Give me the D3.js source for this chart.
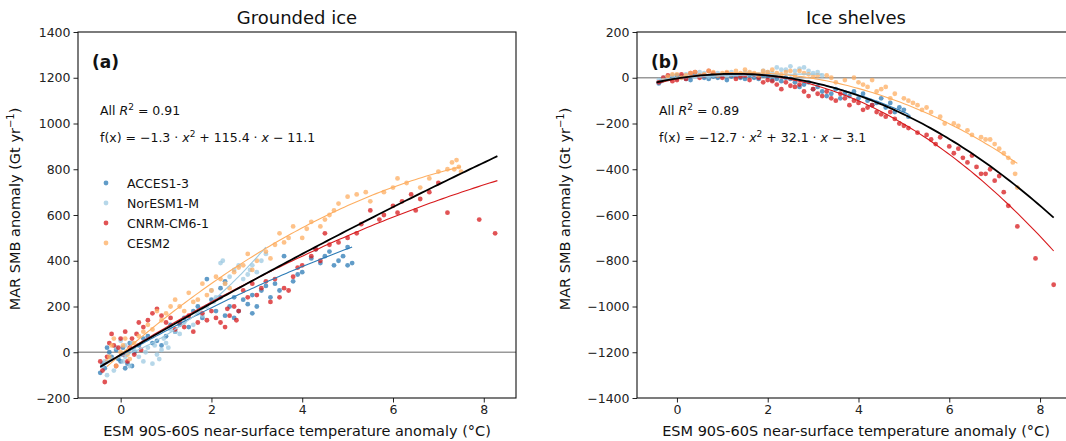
<!DOCTYPE html>
<html>
<head>
<meta charset="utf-8">
<script src="https://cdn.jsdelivr.net/npm/d3@7"></script>
<style>
  html, body { margin: 0; padding: 0; background: #fff; }
  svg { display: block; font-family: "DejaVu Sans", sans-serif; }
</style>
</head>
<body>
<svg id="chart" width="1066" height="441"></svg>
<script>
// ---------------- DATA ----------------
const models = ["ACCES1-3", "NorESM1-M", "CNRM-CM6-1", "CESM2"];
const modelColors = ["#2c7bb6", "#9ecae1", "#d7191c", "#fdae61"];

const xTicks = [0, 2, 4, 6, 8];
const groundedYTicks = [-200, 0, 200, 400, 600, 800, 1000, 1200, 1400];
const shelvesYTicks = [-1400, -1200, -1000, -800, -600, -400, -200, 0, 200];

// Grounded ice points [temperature anomaly, SMB anomaly]
const groundedAcces = [[-0.45,-90],[-0.4,-50],[-0.35,-70],[-0.3,20],[-0.25,0],[-0.2,-20],[-0.1,10],[-0.05,-30],[0.0,-40],[0.05,20],[0.1,-70],[0.15,-50],[0.2,40],[0.25,-60],[0.3,0],[0.4,30],[0.5,60],[0.6,70],[0.7,40],[0.8,50],[0.9,30],[1.0,70],[1.1,120],[1.2,90],[1.3,120],[1.4,150],[1.5,110],[1.6,180],[1.7,200],[1.8,150],[1.9,320],[2.0,230],[2.1,180],[2.2,240],[2.2,280],[2.3,160],[2.3,310],[2.4,200],[2.5,150],[2.5,240],[2.6,180],[2.7,230],[2.8,210],[2.9,250],[2.9,170],[3.0,200],[3.1,270],[3.2,290],[3.3,240],[3.4,300],[3.5,270],[3.6,420],[3.8,310],[3.9,340],[4.0,350],[4.2,410],[4.3,450],[4.4,390],[4.5,420],[4.6,440],[4.7,380],[4.8,400],[4.9,420],[5.0,380],[5.0,460],[5.1,390]];
const groundedNor = [[-0.4,-60],[-0.35,-40],[-0.3,-100],[-0.2,-30],[-0.15,-80],[-0.1,20],[0,50],[0.05,-40],[0.1,-20],[0.1,30],[0.2,-60],[0.25,40],[0.3,10],[0.4,-20],[0.5,-40],[0.55,0],[0.6,20],[0.7,-50],[0.75,30],[0.8,-10],[0.85,-30],[0.9,10],[0.95,60],[1.0,40],[1.05,20],[1.1,100],[1.2,90],[1.3,80],[1.4,130],[1.5,150],[1.6,120],[1.7,170],[1.8,160],[1.9,200],[2.0,270],[2.05,220],[2.1,240],[2.2,390],[2.25,400],[2.3,300],[2.4,330],[2.5,360],[2.6,380],[2.7,320],[2.8,340],[2.85,360],[2.9,380],[3.0,350],[3.1,400],[3.2,430]];
const groundedCnrm = [[-0.45,-40],[-0.4,-80],[-0.35,-130],[-0.3,-20],[-0.25,40],[-0.2,80],[-0.15,30],[-0.1,-60],[-0.05,20],[0,60],[0.05,-10],[0.1,90],[0.15,-40],[0.2,20],[0.25,60],[0.3,-10],[0.35,80],[0.4,130],[0.45,10],[0.5,110],[0.6,140],[0.7,170],[0.8,190],[0.9,160],[1.0,130],[1.1,150],[1.2,100],[1.3,130],[1.4,110],[1.5,160],[1.6,90],[1.7,130],[1.8,170],[1.9,140],[2.0,180],[2.1,150],[2.2,130],[2.3,110],[2.35,190],[2.4,160],[2.5,200],[2.55,140],[2.6,180],[2.7,270],[2.8,240],[2.9,300],[3.0,250],[3.1,280],[3.2,310],[3.3,220],[3.4,320],[3.5,240],[3.6,280],[3.7,270],[3.8,330],[3.9,370],[4.0,380],[4.2,420],[4.3,450],[4.4,400],[4.5,520],[4.6,470],[4.8,480],[5.0,500],[5.2,520],[5.3,560],[5.5,620],[5.7,580],[5.8,600],[6.0,640],[6.1,610],[6.2,660],[6.4,690],[6.5,620],[6.6,670],[6.8,700],[7.0,740],[7.2,610],[7.9,580],[8.25,520]];
const groundedCesm = [[-0.3,-40],[-0.25,-20],[-0.2,30],[-0.15,60],[-0.1,-60],[0,0],[0.05,30],[0.1,60],[0.15,-10],[0.2,-30],[0.3,40],[0.4,70],[0.5,90],[0.6,120],[0.7,100],[0.8,180],[0.9,140],[1.0,170],[1.1,200],[1.2,230],[1.3,200],[1.4,180],[1.5,260],[1.6,220],[1.7,230],[1.8,300],[1.9,250],[2.0,270],[2.1,330],[2.2,320],[2.3,300],[2.4,280],[2.5,350],[2.6,370],[2.7,380],[2.8,430],[2.9,360],[3.0,400],[3.2,440],[3.3,410],[3.4,470],[3.5,520],[3.6,480],[3.7,500],[3.8,550],[4.0,500],[4.1,540],[4.2,570],[4.4,550],[4.5,580],[4.6,600],[4.7,620],[4.8,650],[5.0,680],[5.2,690],[5.4,700],[5.5,660],[5.8,700],[6.0,720],[6.1,760],[6.3,740],[6.6,720],[6.8,760],[7.0,790],[7.2,800],[7.3,830],[7.35,800],[7.4,840],[7.45,810],[7.5,790]];

// Ice shelves points
const shelvesAcces = [[-0.4,-25],[-0.35,-15],[-0.3,-10],[-0.2,-5],[-0.1,0],[0,10],[0.1,5],[0.2,-5],[0.3,-10],[0.4,15],[0.5,10],[0.6,0],[0.7,-5],[0.8,5],[0.9,0],[1.0,10],[1.1,-10],[1.2,5],[1.3,10],[1.4,0],[1.5,-5],[1.6,10],[1.7,0],[1.8,-5],[1.9,10],[2.0,5],[2.1,-10],[2.2,-5],[2.3,-15],[2.4,0],[2.5,-5],[2.6,-20],[2.7,-40],[2.8,-30],[2.9,-20],[3.0,-50],[3.1,-40],[3.2,-60],[3.3,-80],[3.4,-70],[3.5,-50],[3.6,-90],[3.7,-70],[3.8,-80],[3.9,-60],[4.0,-90],[4.1,-70],[4.2,-100],[4.3,-120],[4.4,-110],[4.5,-90],[4.6,-130],[4.7,-110],[4.8,-150],[4.9,-130],[5.0,-140],[5.1,-170]];
const shelvesNor = [[-0.4,-10],[-0.3,0],[-0.2,5],[-0.1,10],[0,-5],[0.1,0],[0.2,15],[0.3,10],[0.4,5],[0.5,25],[0.6,20],[0.7,5],[0.8,10],[0.9,20],[1.0,15],[1.1,10],[1.2,25],[1.3,15],[1.4,10],[1.5,25],[1.6,20],[1.7,10],[1.8,15],[1.9,30],[2.0,25],[2.1,20],[2.2,45],[2.3,35],[2.4,35],[2.5,50],[2.6,30],[2.7,40],[2.8,45],[2.9,30],[3.0,20],[3.1,25],[3.2,10]];
const shelvesCnrm = [[-0.4,-20],[-0.3,0],[-0.2,10],[-0.1,-15],[0,-10],[0.1,15],[0.2,-5],[0.3,20],[0.4,25],[0.5,0],[0.6,10],[0.7,30],[0.8,20],[0.9,10],[1.0,0],[1.1,20],[1.2,15],[1.3,-5],[1.4,5],[1.5,10],[1.6,-10],[1.7,15],[1.8,0],[1.9,-20],[2.0,-10],[2.1,-15],[2.2,-30],[2.3,-50],[2.4,-20],[2.5,-35],[2.6,-40],[2.7,-30],[2.8,-60],[2.9,-80],[3.0,-50],[3.1,-70],[3.2,-80],[3.3,-60],[3.4,-90],[3.5,-100],[3.6,-70],[3.7,-90],[3.8,-120],[3.9,-100],[4.0,-110],[4.1,-140],[4.2,-130],[4.3,-120],[4.4,-150],[4.5,-160],[4.6,-170],[4.7,-150],[4.8,-180],[4.9,-200],[5.0,-210],[5.1,-220],[5.3,-240],[5.5,-250],[5.6,-270],[5.7,-290],[5.8,-260],[6.0,-300],[6.1,-330],[6.2,-310],[6.3,-350],[6.4,-370],[6.5,-340],[6.6,-390],[6.7,-420],[6.8,-420],[6.9,-400],[7.0,-450],[7.1,-430],[7.2,-500],[7.3,-560],[7.5,-650],[7.9,-790],[8.3,-905]];
const shelvesCesm = [[-0.3,-10],[-0.2,5],[-0.1,15],[0,15],[0.1,0],[0.2,10],[0.3,20],[0.4,25],[0.5,10],[0.6,15],[0.7,30],[0.8,25],[0.9,10],[1.0,20],[1.1,25],[1.2,15],[1.3,30],[1.4,20],[1.5,35],[1.6,25],[1.7,20],[1.8,10],[1.9,30],[2.0,25],[2.1,35],[2.2,20],[2.3,15],[2.4,25],[2.5,30],[2.6,10],[2.7,30],[2.8,20],[2.9,15],[3.0,5],[3.1,10],[3.3,10],[3.4,0],[3.5,-20],[3.7,-10],[3.9,0],[4.0,-20],[4.1,-30],[4.2,-40],[4.3,-10],[4.4,-60],[4.5,-50],[4.6,-40],[4.7,-90],[4.8,-70],[5.0,-90],[5.1,-100],[5.2,-110],[5.3,-120],[5.4,-140],[5.5,-130],[5.6,-150],[5.8,-170],[5.9,-200],[6.1,-200],[6.2,-210],[6.4,-230],[6.5,-250],[6.7,-260],[6.8,-270],[6.9,-270],[7.0,-290],[7.1,-310],[7.2,-330],[7.3,-350],[7.4,-370],[7.45,-420],[7.5,-480]];

// Quadratic fits [a, b, c, xmin, xmax] (per model) and overall fit (from the panel text)
const groundedModelFits = [[-3.77,112.4,-15,-0.45,5.1],[25,70,-20,-0.4,3.2],[-3.7,122.3,-10,-0.4,8.3],[-8.3,171.7,-10,-0.3,7.5]];
const groundedAllFit = [-1.3, 115.4, -11.1, -0.45, 8.3];
const shelvesModelFits = [[-11.5,28,-3,-0.4,5.1],[-2,12,-2,-0.4,3.2],[-15.5,38,-5,-0.4,8.3],[-11,33,-3,-0.3,7.5]];
const shelvesAllFit = [-12.7, 32.1, -3.1, -0.45, 8.3];

// ---------------- DRAW ----------------
const svg = d3.select("#chart");
const W = 438, TOP = 32, BOTTOM = 398;

const panels = [
  { left: 78, xDomain: [-0.94, 8.71], yDomain: [-200, 1400], yTicks: groundedYTicks,
    title: "Grounded ice", tag: "(a)", r2: "0.91",
    fx: ["\u22121.3", "115.4", "\u2212 11.1"],
    pts: [groundedAcces, groundedNor, groundedCnrm, groundedCesm],
    fits: groundedModelFits, allFit: groundedAllFit, legend: true, ylabX: 20 },
  { left: 637, xDomain: [-0.88, 8.77], yDomain: [-1400, 200], yTicks: shelvesYTicks,
    title: "Ice shelves", tag: "(b)", r2: "0.89",
    fx: ["\u221212.7", "32.1", "\u2212 3.1"],
    pts: [shelvesAcces, shelvesNor, shelvesCnrm, shelvesCesm],
    fits: shelvesModelFits, allFit: shelvesAllFit, legend: false, ylabX: 570 }
];

const defs = svg.append("defs");

panels.forEach((p, pi) => {
  const x = d3.scaleLinear().domain(p.xDomain).range([p.left, p.left + W]);
  const y = d3.scaleLinear().domain(p.yDomain).range([BOTTOM, TOP]);

  defs.append("clipPath").attr("id", "clip" + pi)
    .append("rect").attr("x", p.left).attr("y", TOP).attr("width", W).attr("height", BOTTOM - TOP);

  const g = svg.append("g");
  const plot = g.append("g").attr("clip-path", `url(#clip${pi})`);

  // zero line
  plot.append("line")
    .attr("x1", p.left).attr("x2", p.left + W)
    .attr("y1", y(0)).attr("y2", y(0))
    .attr("stroke", "#999").attr("stroke-width", 1.6);

  // points
  p.pts.forEach((arr, mi) => {
    plot.append("g").selectAll("circle").data(arr).join("circle")
      .attr("cx", d => x(d[0])).attr("cy", d => y(d[1]))
      .attr("r", 2.4)
      .attr("fill", modelColors[mi]).attr("fill-opacity", 0.75);
  });

  const line = d3.line().x(d => x(d[0])).y(d => y(d[1]));
  const curve = f => d3.range(0, 101).map(i => {
    const xv = f[3] + (f[4] - f[3]) * i / 100;
    return [xv, f[0] * xv * xv + f[1] * xv + f[2]];
  });

  // model fits
  p.fits.forEach((f, mi) => {
    plot.append("path").attr("d", line(curve(f)))
      .attr("fill", "none").attr("stroke", modelColors[mi]).attr("stroke-width", 1.1);
  });
  // overall fit
  plot.append("path").attr("d", line(curve(p.allFit)))
    .attr("fill", "none").attr("stroke", "#000").attr("stroke-width", 1.8);

  // axes
  const xAxis = g.append("g").attr("transform", `translate(0,${BOTTOM})`)
    .call(d3.axisBottom(x).tickValues(xTicks).tickFormat(d3.format("d")).tickSize(4.5).tickPadding(3));
  const yAxis = g.append("g").attr("transform", `translate(${p.left},0)`)
    .call(d3.axisLeft(y).tickValues(p.yTicks).tickFormat(d => d < 0 ? "\u2212" + Math.abs(d) : d).tickSize(4.5).tickPadding(3));
  [xAxis, yAxis].forEach(a => {
    a.select(".domain").remove();
    a.selectAll("line").attr("stroke", "#222").attr("stroke-width", 1);
    a.selectAll("text").attr("fill", "#222").attr("font-size", 12.5).attr("font-family", "DejaVu Sans");
  });

  // frame
  g.append("rect").attr("x", p.left).attr("y", TOP).attr("width", W).attr("height", BOTTOM - TOP)
    .attr("fill", "none").attr("stroke", "#111").attr("stroke-width", 1.1);

  // title
  g.append("text").attr("x", p.left + W / 2).attr("y", 24).attr("text-anchor", "middle")
    .attr("font-size", 18).attr("fill", "#111").text(p.title);

  // x label
  g.append("text").attr("x", p.left + W / 2).attr("y", 436).attr("text-anchor", "middle")
    .attr("font-size", 14.5).attr("fill", "#111").text("ESM 90S-60S near-surface temperature anomaly (\u00B0C)");

  // y label
  const yl = g.append("text").attr("transform", `translate(${p.ylabX},${(TOP + BOTTOM) / 2 - 6}) rotate(-90)`)
    .attr("text-anchor", "middle").attr("font-size", 14.5).attr("fill", "#111");
  yl.append("tspan").text("MAR SMB anomaly (Gt yr");
  yl.append("tspan").attr("font-size", 10).attr("dy", -6).text("\u22121");
  yl.append("tspan").attr("dy", 6).text(")");

  // panel tag
  g.append("text").attr("x", p.left + 14).attr("y", 68).attr("font-size", 17).attr("font-weight", "bold")
    .attr("fill", "#111").text(p.tag);

  // R2 text
  const tx = p.left + 22;
  const r = g.append("text").attr("x", tx).attr("y", 115).attr("font-size", 12.5).attr("fill", "#111");
  r.append("tspan").text("All ");
  r.append("tspan").attr("font-style", "italic").text("R");
  r.append("tspan").attr("font-size", 9).attr("dy", -5).text("2");
  r.append("tspan").attr("dy", 5).text(" = " + p.r2);

  const fxT = g.append("text").attr("x", tx).attr("y", 142).attr("font-size", 12.5).attr("fill", "#111");
  fxT.append("tspan").text("f(x) = " + p.fx[0] + " \u00B7 ");
  fxT.append("tspan").attr("font-style", "italic").text("x");
  fxT.append("tspan").attr("font-size", 9).attr("dy", -5).text("2");
  fxT.append("tspan").attr("dy", 5).text(" + " + p.fx[1] + " \u00B7 ");
  fxT.append("tspan").attr("font-style", "italic").text("x");
  fxT.append("tspan").text(" " + p.fx[2]);

  // legend
  if (p.legend) {
    models.forEach((m, mi) => {
      const ly = 183 + mi * 20;
      g.append("circle").attr("cx", p.left + 28).attr("cy", ly).attr("r", 2.4)
        .attr("fill", modelColors[mi]).attr("fill-opacity", 0.75);
      g.append("text").attr("x", p.left + 49).attr("y", ly + 4.5).attr("font-size", 12.5)
        .attr("fill", "#111").text(m);
    });
  }
});
</script>
</body>
</html>
